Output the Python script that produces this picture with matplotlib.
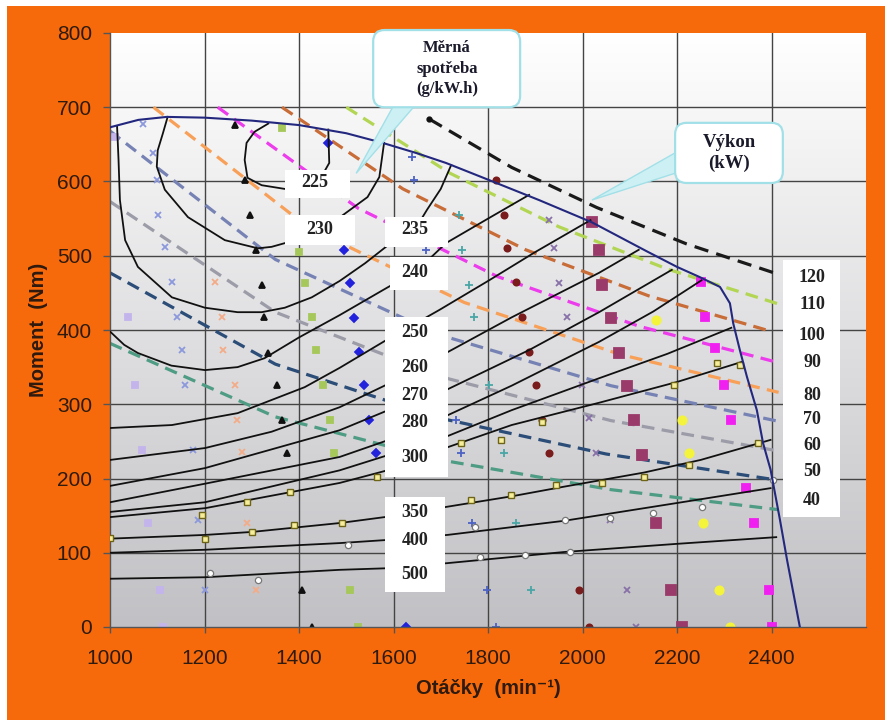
import matplotlib
matplotlib.use('Agg')
import matplotlib.pyplot as plt
import numpy as np
from matplotlib.patches import Rectangle, FancyBboxPatch, Polygon
from matplotlib.colors import LinearSegmentedColormap

# ------------------------------------------------------------------ data
rpm_ticks = [1000, 1200, 1400, 1600, 1800, 2000, 2200, 2400]
torque_ticks = [0, 100, 200, 300, 400, 500, 600, 700, 800]

# full-load torque curve
full_load_rpm = [1000, 1060, 1120, 1200, 1300, 1400, 1500, 1577, 1650, 1711, 1802, 1908,
                 2020, 2136, 2200, 2249, 2291, 2312, 2319, 2333, 2348, 2369, 2382, 2398,
                 2418, 2433, 2460]
full_load_nm = [673, 683, 687, 686, 682, 676, 665, 652, 638, 625, 602, 575,
                545, 506, 485, 471, 458, 436, 409, 373, 337, 292, 248, 212,
                144, 90, 0]

# constant power lines (kW)
power_labels = ['120', '110', '100', '90', '80', '70', '60', '50', '40']
p120_rpm = [1676, 1850, 2030, 2220, 2410]; p120_nm = [684, 619, 565, 516, 476]
p110_rpm = [1500, 1720, 1950, 2180, 2415]; p110_nm = [700, 611, 539, 482, 435]
p100_rpm = [1364, 1620, 1880, 2140, 2400]; p100_nm = [700, 590, 508, 446, 398]
p90_rpm = [1228, 1525, 1820, 2120, 2415];  p90_nm = [700, 564, 472, 405, 356]
p80_rpm = [1092, 1420, 1750, 2080, 2415];  p80_nm = [700, 538, 437, 367, 316]
p70_rpm = [1000, 1350, 1700, 2060, 2415];  p70_nm = [668, 495, 393, 325, 277]
p60_rpm = [1000, 1350, 1700, 2060, 2415];  p60_nm = [573, 424, 337, 278, 237]
p50_rpm = [1000, 1350, 1700, 2050, 2400];  p50_nm = [477, 354, 281, 233, 199]
p40_rpm = [1000, 1350, 1700, 2060, 2415];  p40_nm = [382, 283, 225, 185, 158]

# specific fuel consumption iso-lines (g/kW.h)
bsfc_labels = ['225', '230', '235', '240', '250', '260', '270', '280', '300', '350', '400', '500']
b225_rpm = [1462, 1464, 1440, 1400, 1370, 1321, 1291, 1285, 1289, 1306, 1335]
b225_nm = [670, 625, 598, 590, 590, 595, 605, 629, 652, 667, 678]
b230_rpm = [1122, 1112, 1101, 1099, 1116, 1165, 1243, 1313, 1342, 1370, 1440, 1502, 1545, 1570, 1577, 1580]
b230_nm = [687, 665, 642, 620, 589, 552, 521, 510, 512, 517, 530, 559, 579, 606, 638, 652]
b235_rpm = [1015, 1018, 1021, 1032, 1059, 1131, 1201, 1270, 1321, 1370, 1427, 1486, 1540, 1600, 1650, 1671, 1700, 1722]
b235_nm = [674, 630, 575, 521, 485, 444, 430, 424, 424, 430, 444, 466, 490, 520, 540, 562, 590, 622]
b240_rpm = [1000, 1030, 1059, 1130, 1201, 1270, 1327, 1400, 1486, 1581, 1650, 1711, 1800, 1887]
b240_nm = [398, 380, 369, 352, 346, 350, 362, 390, 420, 455, 480, 517, 550, 582]
b250_rpm = [1000, 1131, 1270, 1412, 1486, 1581, 1650, 1697, 1800, 1900, 2017]
b250_nm = [268, 272, 288, 323, 349, 385, 410, 427, 466, 505, 548]
b260_rpm = [1000, 1201, 1342, 1486, 1581, 1714, 1850, 2035, 2119]
b260_nm = [225, 241, 263, 296, 325, 370, 417, 477, 508]
b270_rpm = [1000, 1201, 1486, 1581, 1714, 1887, 2035, 2189]
b270_nm = [190, 214, 265, 290, 320, 373, 424, 481]
b280_rpm = [1000, 1201, 1486, 1581, 1714, 1850, 2035, 2150, 2252]
b280_nm = [168, 193, 229, 250, 285, 325, 384, 425, 467]
b290_rpm = [1000, 1201, 1486, 1581, 1714, 1850, 2035, 2180, 2315]
b290_nm = [155, 168, 211, 230, 257, 292, 335, 368, 403]
b300_rpm = [1000, 1201, 1486, 1581, 1714, 1850, 2035, 2200, 2337]
b300_nm = [148, 160, 194, 210, 242, 272, 302, 330, 357]
b350_rpm = [1000, 1201, 1300, 1486, 1581, 1714, 1850, 1961, 2130, 2250, 2398]
b350_nm = [119, 124, 128, 140, 148, 162, 176, 189, 208, 225, 252]
b400_rpm = [1000, 1201, 1486, 1581, 1714, 1961, 2200, 2398]
b400_nm = [100, 104, 113, 117, 124, 143, 167, 187]
b500_rpm = [1000, 1201, 1486, 1581, 1714, 1961, 2200, 2410]
b500_nm = [65, 67, 77, 79, 86, 101, 112, 121]

# measured points (one series per governor setting)
s1_rpm = [1011, 1038, 1053, 1068, 1080, 1106, 1112]
s1_nm = [660, 418, 326, 238, 140, 50, 0]
s2_rpm = [1070, 1091, 1099, 1101, 1116, 1131, 1141, 1152, 1158, 1175, 1186, 1201]
s2_nm = [678, 638, 602, 555, 512, 465, 418, 373, 326, 238, 144, 50]
s3_rpm = [1222, 1236, 1239, 1264, 1268, 1279, 1291, 1310]
s3_nm = [465, 418, 373, 326, 279, 236, 140, 50]
s4_rpm = [1264, 1285, 1296, 1310, 1321, 1326, 1334, 1353, 1365, 1375, 1407, 1427]
s4_nm = [676, 602, 555, 508, 461, 418, 369, 326, 279, 234, 50, 0]
s5_rpm = [1363, 1401, 1412, 1427, 1437, 1450, 1465, 1475, 1507, 1524]
s5_nm = [672, 505, 463, 418, 373, 326, 279, 234, 50, 0]
s6_rpm = [1461, 1496, 1507, 1517, 1528, 1538, 1549, 1564, 1627]
s6_nm = [652, 508, 463, 416, 370, 326, 279, 234, 0]
s7_rpm = [1640, 1644, 1669, 1733, 1743, 1766, 1798, 1817]
s7_nm = [633, 602, 508, 279, 234, 140, 50, 0]
s8_rpm = [1739, 1746, 1760, 1771, 1802, 1834, 1859, 1891]
s8_nm = [555, 508, 461, 418, 326, 234, 140, 50]
s9_rpm = [1817, 1834, 1841, 1859, 1872, 1887, 1901, 1914, 1929, 1992, 2013]
s9_nm = [602, 555, 510, 465, 418, 370, 326, 279, 234, 50, 0]
s10_rpm = [1929, 1940, 1950, 1967, 1999, 2013, 2028, 2059, 2094, 2113]
s10_nm = [548, 510, 463, 418, 326, 281, 234, 144, 50, 0]
s11_rpm = [2020, 2035, 2041, 2060, 2077, 2094, 2109, 2126, 2155, 2187, 2210]
s11_nm = [545, 508, 461, 416, 369, 324, 279, 232, 140, 50, 0]
s12_rpm = [2155, 2210, 2225, 2256, 2288, 2313]
s12_nm = [413, 279, 234, 140, 50, 0]
s13_rpm = [2250, 2260, 2281, 2299, 2315, 2347, 2362, 2394, 2400]
s13_nm = [465, 418, 376, 326, 279, 187, 140, 50, 0]
# points marked on the iso-lines
o1_rpm = [1000, 1194, 1200, 1291, 1300, 1380, 1390, 1490, 1566, 1743, 1764, 1828, 1849,
          1914, 1944, 2041, 2130, 2193, 2225, 2284, 2334, 2372]
o1_nm = [120, 151, 118, 168, 128, 182, 138, 140, 202, 248, 171, 252, 178,
         276, 191, 194, 202, 326, 218, 355, 353, 248]
o2_rpm = [1212, 1313, 1503, 1772, 1783, 1878, 1963, 1973, 2058, 2149, 2253, 2403]
o2_nm = [73, 63, 110, 135, 94, 97, 144, 101, 147, 153, 162, 198]

# ------------------------------------------------------------------ style
ORANGE = '#f76a0c'
TICK_COL = '#2e1a0e'
SERIF = ['Liberation Serif', 'DejaVu Serif']
SANS = ['Liberation Sans', 'DejaVu Sans']

fig = plt.figure(figsize=(8.88, 7.21), dpi=100)
fig.patch.set_facecolor('white')
fig.patches.append(Rectangle((7 / 888, 1 / 721), (885 - 7) / 888, (715 - 1) / 721,
                             transform=fig.transFigure, facecolor=ORANGE,
                             edgecolor='none', zorder=-10))

ax = fig.add_axes([110 / 888, (721 - 627) / 721, 756 / 888, 594 / 721])
ax.set_zorder(1)
ax.set_facecolor('white')

grad = np.linspace(0, 1, 256).reshape(-1, 1)
bg_cmap = LinearSegmentedColormap.from_list('bg', ['#c1c1c5', '#ffffff'])
ax.imshow(grad, extent=[1000, 2600, 0, 800], origin='lower', aspect='auto',
          cmap=bg_cmap, zorder=0, interpolation='bilinear')
ax.set_xlim(1000, 2600)
ax.set_ylim(0, 800)

for t in torque_ticks[1:-1]:
    ax.axhline(t, color='#444444', lw=1.0, zorder=0.6)
for r in rpm_ticks[1:]:
    ax.axvline(r, color='#444444', lw=1.0, zorder=0.6)

for s in ['top', 'right']:
    ax.spines[s].set_visible(False)
for s in ['left', 'bottom']:
    ax.spines[s].set_color('#555555')
    ax.spines[s].set_linewidth(1.0)

ax.set_xticks(rpm_ticks)
ax.set_yticks(torque_ticks)
ax.tick_params(axis='y', direction='out', length=5, width=1, color='#555555',
               pad=8, labelsize=15, labelcolor=TICK_COL)
ax.tick_params(axis='x', direction='out', length=4, width=1, color='#555555',
               pad=12, labelsize=15, labelcolor=TICK_COL)
for lab in ax.get_xticklabels() + ax.get_yticklabels():
    lab.set_family(SANS)

ax.set_ylabel('Moment  (Nm)', fontsize=14.5, fontweight='bold', color=TICK_COL, family=SANS)
ax.set_xlabel('Otáčky  (min⁻¹)', fontsize=14.5, fontweight='bold', color=TICK_COL, family=SANS)
ax.yaxis.set_label_coords(-0.082, 0.5)
ax.xaxis.set_label_coords(0.5, -0.088)

# power lines
power_series = [
    (p120_rpm, p120_nm, '#1a1a1a', (4.5, 2.6)),
    (p110_rpm, p110_nm, '#b2d654', (4, 2.3)),
    (p100_rpm, p100_nm, '#c86c38', (4, 2.3)),
    (p90_rpm, p90_nm, '#ec3cec', (4, 2.3)),
    (p80_rpm, p80_nm, '#f8a058', (4, 2.3)),
    (p70_rpm, p70_nm, '#7682b4', (4, 2.3)),
    (p60_rpm, p60_nm, '#9c9ca8', (4, 2.3)),
    (p50_rpm, p50_nm, '#2b4d78', (4, 2.3)),
    (p40_rpm, p40_nm, '#4f9c84', (4, 2.3)),
]
for r, t, c, d in power_series:
    ax.plot(r, t, color=c, lw=2.3, linestyle=(0, d), zorder=2, solid_capstyle='butt')
ax.plot(p120_rpm[:1], p120_nm[:1], 'o', color='#111111', ms=3.5, zorder=2.2)

# measured points
scatter_series = [
    (s1_rpm, s1_nm, 's', '#c4b4ec', '#c4b4ec', 4.5),
    (s2_rpm, s2_nm, 'x', '#8c98dc', '#8c98dc', 5),
    (s3_rpm, s3_nm, 'x', '#f4ab88', '#f4ab88', 5),
    (s4_rpm, s4_nm, '^', '#111111', '#111111', 5),
    (s5_rpm, s5_nm, 's', '#a6c85a', '#a6c85a', 5),
    (s6_rpm, s6_nm, 'D', '#2222dd', '#2222dd', 4.5),
    (s7_rpm, s7_nm, '+', '#4c62c4', '#4c62c4', 6),
    (s8_rpm, s8_nm, '+', '#4aa6a6', '#4aa6a6', 6),
    (s9_rpm, s9_nm, 'o', '#7a1c1c', '#7a1c1c', 4.5),
    (s10_rpm, s10_nm, 'x', '#8870a8', '#8870a8', 5),
    (s11_rpm, s11_nm, 's', '#9a3a6a', '#9a3a6a', 7),
    (s12_rpm, s12_nm, 'o', '#f4f43c', '#f4f43c', 6),
    (s13_rpm, s13_nm, 's', '#f020f0', '#f020f0', 5.5),
]
for r, t, m, fc, ec, ms in scatter_series:
    ax.plot(r, t, linestyle='none', marker=m, markerfacecolor=fc, markeredgecolor=ec,
            ms=ms, mew=1.3, zorder=2.5)
ax.plot(o1_rpm, o1_nm, linestyle='none', marker='s', markerfacecolor='#f6ee9a',
        markeredgecolor='#6e6418', ms=5, mew=1.0, zorder=3.2)
ax.plot(o2_rpm, o2_nm, linestyle='none', marker='o', markerfacecolor='white',
        markeredgecolor='#777777', ms=4.5, mew=0.9, zorder=3.2)

# iso-consumption lines
for r, t in [(b225_rpm, b225_nm), (b230_rpm, b230_nm), (b235_rpm, b235_nm),
             (b240_rpm, b240_nm), (b250_rpm, b250_nm), (b260_rpm, b260_nm),
             (b270_rpm, b270_nm), (b280_rpm, b280_nm), (b290_rpm, b290_nm),
             (b300_rpm, b300_nm), (b350_rpm, b350_nm), (b400_rpm, b400_nm),
             (b500_rpm, b500_nm)]:
    ax.plot(r, t, color='#111111', lw=1.3, zorder=3)

# full-load curve
ax.plot(full_load_rpm, full_load_nm, color='#23287e', lw=1.5, zorder=3.5)

# white label boxes
label_boxes = [(1370, 578, 138, 37), (1370, 514, 149, 41), (1582, 512, 133, 40),
               (1593, 454, 122, 44), (1582, 202, 133, 215), (1582, 47, 127, 128),
               (2424, 148, 121, 346)]
for x0, y0, w, h in label_boxes:
    ax.add_patch(Rectangle((x0, y0), w, h, facecolor='white', edgecolor='none', zorder=5))

bsfc_label_pos = [(1434, 599), (1444, 535), (1645, 535), (1645, 478), (1645, 396),
                  (1645, 350), (1645, 312), (1645, 275), (1645, 228), (1645, 154),
                  (1645, 117), (1645, 71)]
for lab, (x, y) in zip(bsfc_labels, bsfc_label_pos):
    ax.text(x, y, lab, ha='center', va='center', fontsize=13, fontweight='bold',
            family=SERIF, color='#222222', zorder=6)

power_label_y = [471, 434, 392, 356, 312, 279, 245, 209, 171]
for lab, y in zip(power_labels, power_label_y):
    ax.text(2486, y, lab, ha='center', va='center', fontsize=13, fontweight='bold',
            family=SERIF, color='#222222', zorder=6)

# callouts
cyan_edge = '#a2e0e8'
cyan_fill = '#cdf0f4'
aspect = 1.347 / 2.116

ax.add_patch(Polygon([(1600, 702), (1645, 702), (1521, 611)], closed=True,
                     facecolor=cyan_fill, edgecolor=cyan_edge, lw=1.0, zorder=7,
                     clip_on=False))
ax.add_patch(FancyBboxPatch((1557, 700), 311, 104,
                            boxstyle='round,pad=0,rounding_size=24',
                            mutation_aspect=aspect, facecolor='white',
                            edgecolor=cyan_edge, lw=1.6, zorder=7.2, clip_on=False))
ax.text(1713, 752, 'Měrná\nspotřeba\n(g/kW.h)', ha='center', va='center',
        fontsize=12, fontweight='bold', family=SERIF, color='#1a1a2a',
        linespacing=1.35, zorder=8)

ax.add_patch(Polygon([(2200, 640), (2200, 612), (2020, 575)], closed=True,
                     facecolor=cyan_fill, edgecolor=cyan_edge, lw=1.0, zorder=7))
ax.add_patch(FancyBboxPatch((2196, 598), 228, 81,
                            boxstyle='round,pad=0,rounding_size=24',
                            mutation_aspect=aspect, facecolor='white',
                            edgecolor=cyan_edge, lw=1.6, zorder=7.2))
ax.text(2310, 638, 'Výkon\n(kW)', ha='center', va='center', fontsize=13.5,
        fontweight='bold', family=SERIF, color='#1a1a2a', linespacing=1.3, zorder=8)

fig.savefig('out.png', dpi=100, facecolor=fig.get_facecolor())
